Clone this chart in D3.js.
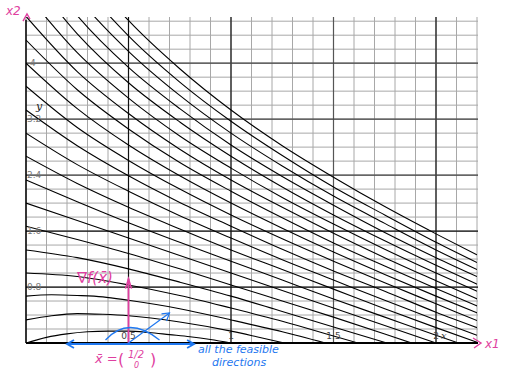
<!DOCTYPE html>
<html>
<head>
<meta charset="utf-8">
<script src="https://cdn.jsdelivr.net/npm/d3@7"></script>
<style>
  html, body { margin: 0; padding: 0; background: #fff; }
  svg { display: block; }
  .tick-label { font-family: "DejaVu Sans", sans-serif; font-size: 9px; fill: #777; }
  .hand { font-family: "DejaVu Sans", sans-serif; font-style: italic; }
</style>
</head>
<body>
<div id="chart"></div>
<script>
// axis ticks
const xMajor = [0.5, 1, 1.5, 2];
const yMajor = [0.8, 1.6, 2.4, 3.2, 4];
const xTickLabels = ['0.5', '1', '1.5', '2'];
const yTickLabels = ['0.8', '1.6', '2.4', '3.2', '4'];

// level curves, [x1, x2]
const level0 = [[0, 0], [0.1, 0.08], [0.2, 0.13], [0.3, 0.16], [0.4, 0.17], [0.5, 0.17], [0.6, 0.15], [0.7, 0.12], [0.8, 0.09], [0.9, 0.05], [1, 0]];
const level1 = [[0, 0.33], [0.125, 0.39], [0.25, 0.42], [0.375, 0.41], [0.5, 0.39], [0.75, 0.30], [1, 0.17], [1.125, 0.09], [1.26, 0]];
const level2 = [[0, 0.67], [0.125, 0.69], [0.25, 0.68], [0.375, 0.66], [0.5, 0.61], [0.75, 0.49], [1, 0.33], [1.25, 0.16], [1.46, 0]];
const level3 = [[0, 1], [0.25, 0.95], [0.5, 0.83], [0.75, 0.68], [1, 0.5], [1.25, 0.31], [1.5, 0.1], [1.62, 0]];
const level4 = [[0, 1.33], [0.25, 1.22], [0.5, 1.06], [0.75, 0.87], [1, 0.67], [1.25, 0.45], [1.5, 0.23], [1.76, 0]];
const level5 = [[0, 1.67], [0.25, 1.48], [0.5, 1.28], [0.75, 1.06], [1, 0.83], [1.25, 0.6], [1.5, 0.37], [1.75, 0.13], [1.88, 0]];
const level6 = [[0, 2], [0.5, 1.5], [1, 1], [1.5, 0.5], [2, 0]];
const level7 = [[0, 2.33], [0.25, 2.02], [0.5, 1.72], [0.75, 1.44], [1, 1.17], [1.25, 0.9], [1.5, 0.63], [1.75, 0.37], [2, 0.11], [2.11, 0]];
const level8 = [[0, 2.67], [0.25, 2.28], [0.5, 1.94], [0.75, 1.63], [1, 1.33], [1.25, 1.05], [1.5, 0.77], [1.75, 0.49], [2, 0.22], [2.2, 0.01]];
const level9 = [[0, 3], [0.25, 2.55], [0.5, 2.17], [0.75, 1.82], [1, 1.5], [1.25, 1.19], [1.5, 0.9], [1.75, 0.61], [2, 0.33], [2.2, 0.11]];
const level10 = [[0, 3.33], [0.25, 2.82], [0.5, 2.39], [0.75, 2.01], [1, 1.67], [1.25, 1.34], [1.5, 1.03], [1.75, 0.74], [2, 0.44], [2.2, 0.22]];
const level11 = [[0, 3.67], [0.25, 3.08], [0.5, 2.61], [0.75, 2.2], [1, 1.83], [1.25, 1.49], [1.5, 1.17], [1.75, 0.86], [2, 0.56], [2.2, 0.32]];
const level12 = [[0, 4], [0.25, 3.35], [0.5, 2.83], [0.75, 2.39], [1, 2], [1.25, 1.64], [1.5, 1.3], [1.75, 0.98], [2, 0.67], [2.2, 0.43]];
const level13 = [[0, 4.33], [0.25, 3.62], [0.5, 3.06], [0.75, 2.58], [1, 2.17], [1.25, 1.79], [1.5, 1.43], [1.75, 1.1], [2, 0.78], [2.2, 0.53]];
const level14 = [[0, 4.67], [0.25, 3.88], [0.5, 3.28], [0.75, 2.77], [1, 2.33], [1.25, 1.94], [1.5, 1.57], [1.75, 1.22], [2, 0.89], [2.2, 0.63]];
const level15 = [[0, 5], [0.25, 4.15], [0.5, 3.5], [0.75, 2.96], [1, 2.5], [1.25, 2.08], [1.5, 1.7], [1.75, 1.34], [2, 1], [2.2, 0.74]];
const level16 = [[0, 5.33], [0.25, 4.42], [0.5, 3.72], [0.75, 3.16], [1, 2.67], [1.25, 2.23], [1.5, 1.83], [1.75, 1.46], [2, 1.11], [2.2, 0.84]];
const level17 = [[0, 5.67], [0.25, 4.68], [0.5, 3.94], [0.75, 3.35], [1, 2.83], [1.25, 2.38], [1.5, 1.97], [1.75, 1.58], [2, 1.22], [2.2, 0.95]];
const level18 = [[0, 6], [0.25, 4.95], [0.5, 4.17], [0.75, 3.54], [1, 3], [1.25, 2.53], [1.5, 2.1], [1.75, 1.71], [2, 1.33], [2.2, 1.05]];
const level19 = [[0, 6.33], [0.25, 5.22], [0.5, 4.39], [0.75, 3.73], [1, 3.17], [1.25, 2.68], [1.5, 2.23], [1.75, 1.83], [2, 1.44], [2.2, 1.15]];
const level20 = [[0, 6.67], [0.25, 5.48], [0.5, 4.61], [0.75, 3.92], [1, 3.33], [1.25, 2.82], [1.5, 2.37], [1.75, 1.95], [2, 1.56], [2.2, 1.26]];

const levels = [level0, level1, level2, level3, level4, level5, level6, level7, level8, level9, level10,
  level11, level12, level13, level14, level15, level16, level17, level18, level19, level20];

// the handwritten notes
const xbar = [0.5, 0];
const gradTip = [0.5, 0.92];
const feasibleLeft = 0.2;
const feasibleRight = 0.82;
const feasibleDiag = [0.7, 0.43];

const width = 506, height = 369;
const magenta = '#df3fa0';
const blue = '#1f78f0';

const x = d3.scaleLinear().domain([0, 2.2]).range([26, 477]);
const y = d3.scaleLinear().domain([0, 4.66]).range([343, 17]);

const svg = d3.select('#chart').append('svg')
    .attr('width', width)
    .attr('height', height);

const defs = svg.append('defs');
defs.append('clipPath').attr('id', 'plot-clip')
  .append('rect')
    .attr('x', x(0)).attr('y', y(4.66))
    .attr('width', x(2.2) - x(0)).attr('height', y(0) - y(4.66));

// grid
const grid = svg.append('g');
grid.selectAll('.vminor')
    .data(x.ticks(22))
  .enter().append('line')
    .attr('x1', d => x(d)).attr('x2', d => x(d))
    .attr('y1', y(4.66)).attr('y2', y(0))
    .attr('stroke', '#a8a8a8').attr('stroke-width', 1);
grid.selectAll('.hminor')
    .data(y.ticks(23))
  .enter().append('line')
    .attr('x1', x(0)).attr('x2', x(2.2) + 1)
    .attr('y1', d => y(d)).attr('y2', d => y(d))
    .attr('stroke', '#a8a8a8').attr('stroke-width', 1);
grid.selectAll('.vmajor')
    .data(xMajor)
  .enter().append('line')
    .attr('x1', d => x(d)).attr('x2', d => x(d))
    .attr('y1', y(4.66)).attr('y2', y(0))
    .attr('stroke', d => d === 1.5 ? '#555' : '#111').attr('stroke-width', 1.2);
grid.selectAll('.hmajor')
    .data(yMajor)
  .enter().append('line')
    .attr('x1', x(0)).attr('x2', x(2.2) + 1)
    .attr('y1', d => y(d)).attr('y2', d => y(d))
    .attr('stroke', d => d >= 2.4 ? '#444' : '#111').attr('stroke-width', 1.2);

// level curves
const line = d3.line()
    .x(d => x(d[0]))
    .y(d => y(d[1]))
    .curve(d3.curveMonotoneX);

svg.append('g')
    .attr('clip-path', 'url(#plot-clip)')
  .selectAll('path')
    .data(levels)
  .enter().append('path')
    .attr('d', line)
    .attr('fill', 'none')
    .attr('stroke', '#000')
    .attr('stroke-width', 1.1);

// axes
svg.append('line')
    .attr('x1', x(0)).attr('x2', x(0))
    .attr('y1', y(4.62)).attr('y2', y(0))
    .attr('stroke', '#000').attr('stroke-width', 1.5);
svg.append('line')
    .attr('x1', x(0)).attr('x2', x(2.2) + 1)
    .attr('y1', y(0)).attr('y2', y(0))
    .attr('stroke', '#000').attr('stroke-width', 2);

// tick labels
svg.selectAll('.ylab')
    .data(yMajor)
  .enter().append('text')
    .attr('class', 'tick-label')
    .attr('x', (d, i) => yTickLabels[i].length > 1 ? x(0) + 1 : x(0) + 4)
    .attr('y', d => y(d) + 3)
    .text((d, i) => yTickLabels[i]);
svg.selectAll('.xlab')
    .data(xMajor)
  .enter().append('text')
    .attr('class', 'tick-label')
    .attr('x', d => x(d))
    .attr('y', y(0) - 4)
    .attr('text-anchor', 'middle')
    .style('fill', '#444')
    .text((d, i) => xTickLabels[i]);
svg.append('text')
    .attr('x', x(2) + 5).attr('y', y(0) - 4)
    .attr('font-family', 'DejaVu Serif').attr('font-style', 'italic')
    .attr('font-size', 10).attr('fill', '#333')
    .text('x');
svg.append('text')
    .attr('x', x(0) + 10).attr('y', y(3.2) - 9)
    .attr('font-family', 'DejaVu Serif').attr('font-style', 'italic')
    .attr('font-size', 11).attr('fill', '#222')
    .text('y');

// annotations
const px = x(xbar[0]), py = y(xbar[1]);

// gradient arrow
svg.append('line')
    .attr('x1', px).attr('x2', px)
    .attr('y1', py).attr('y2', y(gradTip[1]))
    .attr('stroke', magenta).attr('stroke-width', 1.8);
svg.append('path')
    .attr('d', `M${px - 3},${y(gradTip[1]) + 10}L${px},${y(gradTip[1])}L${px + 3},${y(gradTip[1]) + 10}`)
    .attr('fill', 'none').attr('stroke', magenta).attr('stroke-width', 1.5);
svg.append('text')
    .attr('class', 'hand')
    .attr('x', 77).attr('y', y(gradTip[1]) + 4)
    .attr('font-size', 15).attr('fill', magenta)
    .text('∇f(x\u0304)');

// feasible directions
svg.append('line')
    .attr('x1', x(feasibleLeft)).attr('x2', x(feasibleRight))
    .attr('y1', py + 1).attr('y2', py + 1)
    .attr('stroke', blue).attr('stroke-width', 2);
svg.append('path')
    .attr('d', `M${x(feasibleLeft) + 7},${py - 3}L${x(feasibleLeft)},${py + 1}L${x(feasibleLeft) + 7},${py + 5}`
      + `M${x(feasibleRight) - 7},${py - 3}L${x(feasibleRight)},${py + 1}L${x(feasibleRight) - 7},${py + 5}`)
    .attr('fill', 'none').attr('stroke', blue).attr('stroke-width', 1.8);
svg.append('line')
    .attr('x1', px).attr('y1', py)
    .attr('x2', x(feasibleDiag[0])).attr('y2', y(feasibleDiag[1]))
    .attr('stroke', blue).attr('stroke-width', 1.2);
{
  const tx = x(feasibleDiag[0]), ty = y(feasibleDiag[1]);
  svg.append('path')
      .attr('d', `M${tx - 8},${ty + 1}L${tx},${ty}L${tx - 3},${ty + 8}`)
      .attr('fill', 'none').attr('stroke', blue).attr('stroke-width', 1.2);
}
svg.append('path')
    .attr('d', `M${px - 23},${py - 3}Q${px},${py - 28} ${px + 31},${py - 3}`)
    .attr('fill', 'none').attr('stroke', blue).attr('stroke-width', 1.2);

const note = svg.append('text')
    .attr('class', 'hand')
    .attr('font-size', 11).attr('fill', blue);
note.append('tspan').attr('x', 198).attr('y', 353).text('all the feasible');
note.append('tspan').attr('x', 212).attr('y', 366).text('directions');

// x-bar vector
const xb = svg.append('g').attr('fill', magenta).attr('class', 'hand');
xb.append('text').attr('x', 95).attr('y', 363).attr('font-size', 13).text('x\u0304 =');
xb.append('text').attr('x', 118).attr('y', 365).attr('font-size', 16).style('font-style', 'normal').text('(');
xb.append('text').attr('x', 128).attr('y', 358).attr('font-size', 10).text('1/2');
xb.append('text').attr('x', 134).attr('y', 368).attr('font-size', 8).text('0');
xb.append('text').attr('x', 150).attr('y', 365).attr('font-size', 16).style('font-style', 'normal').text(')');

// axis names
svg.append('text')
    .attr('class', 'hand')
    .attr('x', 6).attr('y', 15)
    .attr('font-size', 12).attr('fill', magenta)
    .text('x2');
svg.append('path')
    .attr('d', `M${x(0) - 3},${y(4.6)}L${x(0) + 1},${y(4.66) - 3}L${x(0) + 4},${y(4.66) + 2}`)
    .attr('fill', 'none').attr('stroke', magenta).attr('stroke-width', 1.4);
svg.append('path')
    .attr('d', `M${x(2.2) - 4},${py - 5}L${x(2.2) + 4},${py}L${x(2.2) - 3},${py + 5}`)
    .attr('fill', 'none').attr('stroke', magenta).attr('stroke-width', 1.4);
svg.append('text')
    .attr('class', 'hand')
    .attr('x', 485).attr('y', 348)
    .attr('font-size', 12).attr('fill', magenta)
    .text('x1');
</script>
</body>
</html>
